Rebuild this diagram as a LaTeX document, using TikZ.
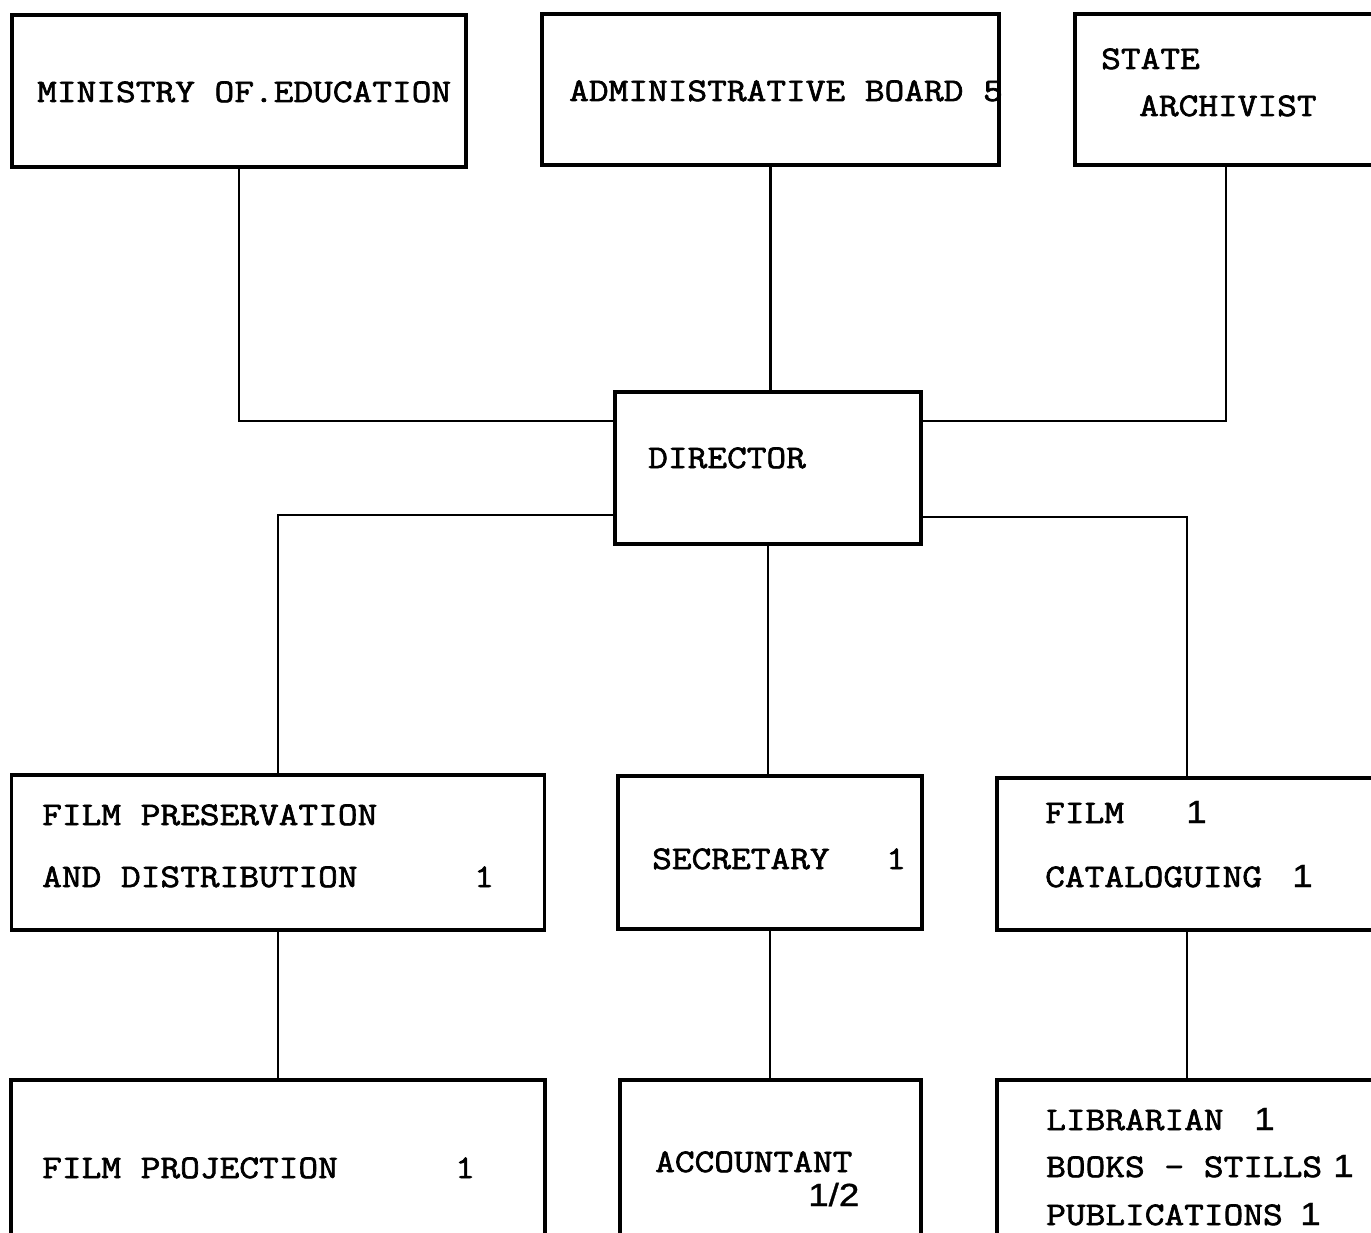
\documentclass[tikz,border=0pt]{standalone}
\usepackage{fontspec}
\newfontfamily\tw{Latin Modern Mono}[FakeStretch=1.16,FakeBold=2]
\newfontfamily\numfont{Liberation Sans}[FakeStretch=1.15,FakeBold=1]
\begin{document}
\begin{tikzpicture}[x=1pt,y=-1pt,
  box/.style={draw, line width=3.2pt, rectangle, inner sep=0pt, outer sep=0pt},
  conn/.style={line width=2.4pt},
  lbl/.style={inner sep=0pt, anchor=base west, font=\tw\fontsize{33}{40}\selectfont},
  num/.style={inner sep=0pt, anchor=base west, font=\numfont\fontsize{32}{36}\selectfont}]
\useasboundingbox (0,0) rectangle (1371,1233);
\clip (0,0) rectangle (1371,1233);
% boxes
\node[box, minimum width=454pt, minimum height=152pt] (min) at (239,91) {};
\node[box, minimum width=457pt, minimum height=151pt] (adm) at (770.5,89.5) {};
\node[box, minimum width=302pt, minimum height=151pt] (sta) at (1226,89.5) {};
\node[box, minimum width=306pt, minimum height=152pt] (dir) at (768,468) {};
\node[box, minimum width=533pt, minimum height=155pt] (fp) at (278,852.5) {};
\node[box, minimum width=304pt, minimum height=153pt] (sec) at (770,852.5) {};
\node[box, minimum width=380pt, minimum height=152pt] (fc) at (1187,854) {};
\node[box, minimum width=534pt, minimum height=180pt] (proj) at (278,1170) {};
\node[box, minimum width=301pt, minimum height=180pt] (acc) at (770.5,1170) {};
\node[box, minimum width=378pt, minimum height=180pt] (lib) at (1186,1170) {};
% connectors
\draw[conn] (min.south) |- ([yshift=47pt]dir.west);
\draw[conn] (adm.south) -- (adm.south |- dir.north);
\draw[conn] (sta.south) |- ([yshift=47pt]dir.east);
\draw[conn] ([yshift=-47pt]dir.west) -| (fp.north);
\draw[conn] ([yshift=-49pt]dir.east) -| (fc.north);
\draw[conn] (dir.south) -- (dir.south |- sec.north);
\draw[conn] (fp.south) -- (fp.south |- proj.north);
\draw[conn] (sec.south) -- (sec.south |- acc.north);
\draw[conn] (fc.south) -- (fc.south |- lib.north);
% texts
\node[lbl] (t-min) at (37,102) {MINISTRY OF.EDUCATION};
\node[lbl] (t-adm) at (569,101) {ADMINISTRATIVE BOARD 5};
\node[lbl] (t-sta1) at (1101,69) {STATE};
\node[lbl] (t-sta2) at (1139,116) {ARCHIVIST};
\node[lbl] (t-dir) at (648,468) {DIRECTOR};
\node[lbl] (t-fp1) at (42,825) {FILM PRESERVATION};
\node[lbl] (t-fp2) at (42,887) {AND DISTRIBUTION};
\node[lbl] (t-fpn) at (474,887) {1};
\node[lbl] (t-sec) at (652,869) {SECRETARY};
\node[lbl] (t-secn) at (886,869) {1};
\node[lbl] (t-fc1) at (1045,823) {FILM};
\node[num] (t-fc1n) at (1186,823) {1};
\node[lbl] (t-fc2) at (1045,887) {CATALOGUING};
\node[num] (t-fc2n) at (1292,887) {1};
\node[lbl] (t-proj) at (42,1178) {FILM PROJECTION};
\node[lbl] (t-projn) at (455,1178) {1};
\node[lbl] (t-acc) at (655,1172) {ACCOUNTANT};
\node[num] (t-accn) at (808,1206) {1/2};
\node[lbl] (t-lib1) at (1046,1130) {LIBRARIAN};
\node[num] (t-lib1n) at (1254,1130) {1};
\node[lbl] (t-lib2) at (1046,1177) {BOOKS - STILLS};
\node[num] (t-lib2n) at (1333,1177) {1};
\node[lbl] (t-lib3) at (1046,1225) {PUBLICATIONS};
\node[num] (t-lib3n) at (1300,1225) {1};
\end{tikzpicture}
\end{document}
